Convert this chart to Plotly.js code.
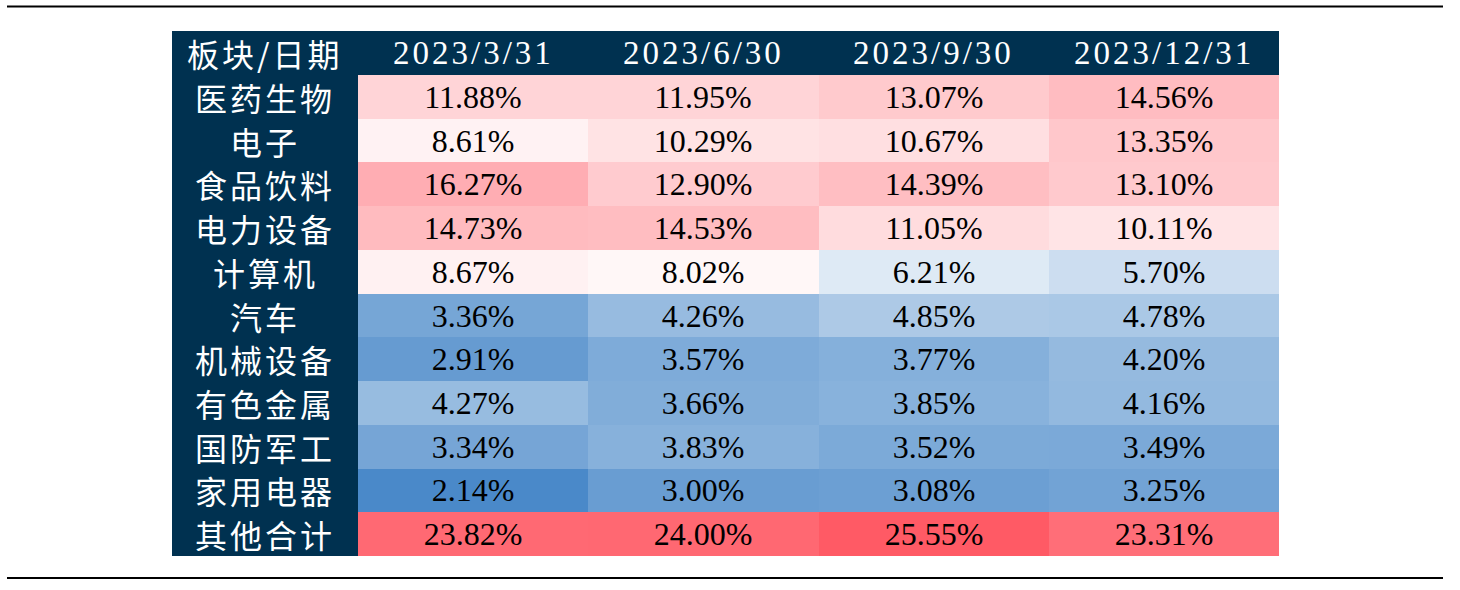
<!DOCTYPE html>
<html>
<head>
<meta charset="utf-8">
<script src="https://cdn.plot.ly/plotly-3.0.1.min.js"></script>
<style>
html,body{margin:0;padding:0;background:#fff;}
#chart{width:1460px;height:590px;}
.annotation-text{letter-spacing:3px;}
</style>
</head>
<body>
<div id="chart"></div>
<script>
// ---- data ----
const headerLabel = '板块/日期';
const dates = ['2023/3/31', '2023/6/30', '2023/9/30', '2023/12/31'];
const sectors = ['医药生物', '电子', '食品饮料', '电力设备', '计算机', '汽车', '机械设备', '有色金属', '国防军工', '家用电器', '其他合计'];
const q1 = [11.88, 8.61, 16.27, 14.73, 8.67, 3.36, 2.91, 4.27, 3.34, 2.14, 23.82];
const q2 = [11.95, 10.29, 12.90, 14.53, 8.02, 4.26, 3.57, 3.66, 3.83, 3.00, 24.00];
const q3 = [13.07, 10.67, 14.39, 11.05, 6.21, 4.85, 3.77, 3.85, 3.52, 3.08, 25.55];
const q4 = [14.56, 13.35, 13.10, 10.11, 5.70, 4.78, 4.20, 4.16, 3.49, 3.25, 23.31];

// ---- build matrix (rows = sectors, cols = dates) ----
const series = [q1, q2, q3, q4];
const z = sectors.map((s, i) => series.map(col => col[i]));
const all = series.flat().slice().sort((a, b) => a - b);
const zmin = all[0], zmax = all[all.length - 1];
const n = all.length;
const median = n % 2 ? all[(n - 1) / 2] : (all[n / 2 - 1] + all[n / 2]) / 2;
const midFrac = (median - zmin) / (zmax - zmin);

const navy = '#003150';

const trace = {
  type: 'heatmap',
  x: dates,
  y: sectors,
  z: z,
  zmin: zmin,
  zmax: zmax,
  colorscale: [[0, '#4a89c9'], [midFrac, '#ffffff'], [1, '#ff5a65']],
  showscale: false,
  texttemplate: '%{z:.2f}%',
  textfont: {family: '"Liberation Serif", "Times New Roman", serif', size: 32, color: '#000'},
  hoverinfo: 'skip',
  xgap: 0, ygap: 0
};

// plot area geometry (pixels) used to place the frame elements
const L = 358, R = 1279, T = 75, B = 556;
const W = R - L, H = B - T;
const px = v => (v - L) / W;
const py = v => (B - v) / H;

const annotations = [];
annotations.push({
  xref: 'paper', yref: 'paper', x: px(265), y: py(53),
  text: headerLabel, showarrow: false, xanchor: 'center', yanchor: 'middle',
  font: {family: '"Noto Sans CJK SC", sans-serif', size: 32, color: '#fff'}
});
dates.forEach(d => annotations.push({
  xref: 'x', yref: 'paper', x: d, y: py(53),
  text: d, showarrow: false, xanchor: 'center', yanchor: 'middle',
  font: {family: '"Liberation Serif", serif', size: 33, color: '#fff'}
}));
sectors.forEach(s => annotations.push({
  xref: 'paper', yref: 'y', x: px(265), y: s,
  text: s, showarrow: false, xanchor: 'center', yanchor: 'middle',
  font: {family: '"Noto Sans CJK SC", sans-serif', size: 32, color: '#fff'}
}));

const shapes = [
  {type: 'rect', xref: 'paper', yref: 'paper', x0: px(172), x1: 1, y0: 1, y1: py(31),
   fillcolor: navy, line: {width: 0}, layer: 'below'},
  {type: 'rect', xref: 'paper', yref: 'paper', x0: px(172), x1: 0, y0: 0, y1: 1,
   fillcolor: navy, line: {width: 0}, layer: 'below'},
  {type: 'line', xref: 'paper', yref: 'paper', x0: px(7), x1: px(1443), y0: py(6.5), y1: py(6.5),
   line: {color: '#000', width: 2}},
  {type: 'line', xref: 'paper', yref: 'paper', x0: px(7), x1: px(1443), y0: py(578), y1: py(578),
   line: {color: '#000', width: 2}}
];

const layout = {
  width: 1460, height: 590,
  margin: {l: L, r: 1460 - R, t: T, b: 590 - B, pad: 0},
  paper_bgcolor: '#fff',
  plot_bgcolor: 'rgba(0,0,0,0)',
  xaxis: {type: 'category', range: [-0.5, dates.length - 0.5], autorange: false, showticklabels: false, showgrid: false, zeroline: false, showline: false, ticks: '', fixedrange: true},
  yaxis: {type: 'category', range: [sectors.length - 0.5, -0.5], autorange: false, showticklabels: false, showgrid: false, zeroline: false, showline: false, ticks: '', fixedrange: true},
  shapes: shapes,
  annotations: annotations,
  showlegend: false
};

Plotly.newPlot('chart', [trace], layout, {displayModeBar: false, staticPlot: true});
</script>
</body>
</html>
